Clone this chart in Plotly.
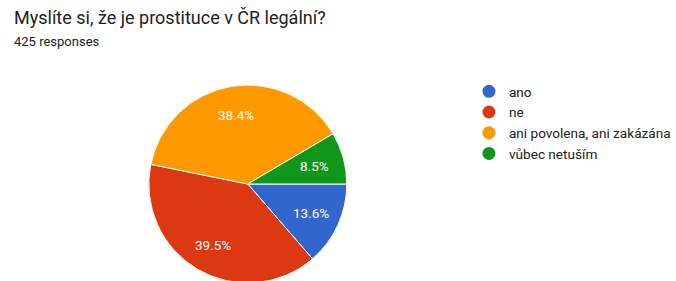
import math
import plotly.graph_objects as go

labels = ["ano", "ne", "ani povolena, ani zakázána", "vůbec netuším"]
counts = [58, 168, 163, 36]
colors = ["#3366cc", "#dc3912", "#ff9900", "#109618"]
title_text = "Myslíte si, že je prostituce v ČR legální?"
subtitle_text = "425 responses"

W, H = 676, 283
CX, R = 251.5, 99.0
fig = go.Figure()
fig.add_trace(go.Pie(
    labels=labels, values=counts, sort=False, direction="clockwise", rotation=90,
    marker=dict(colors=colors, line=dict(color="white", width=1)),
    textinfo="none",
    domain=dict(x=[(CX - 150) / W, (CX + 150) / W], y=[0.0, 2 * R / H]),
    showlegend=False, hoverinfo="label+value+percent",
))
for lab, col in zip(labels, colors):
    fig.add_trace(go.Scatter(
        x=[None], y=[None], mode="markers", name=lab,
        marker=dict(symbol="circle", size=13, color=col),
    ))

# slice labels placed along each slice's middle angle
total = sum(counts)
CY = H - R
annots = []
cum = 0
for v in counts:
    mid = -(cum + v / 2) / total * 2 * math.pi
    cum += v
    px = CX + 0.71 * R * math.cos(mid)
    py = CY - 0.71 * R * math.sin(mid)
    annots.append(dict(text=f"{v / total * 100:.1f}%", x=px / W, y=1 - py / H,
                       xref="paper", yref="paper", xanchor="center", yanchor="middle",
                       showarrow=False,
                       font=dict(family="Roboto", size=13.5, color="white")))

annots += [
    dict(text=title_text, x=12 / W, y=1 - 5 / H, xref="paper", yref="paper",
         xanchor="left", yanchor="top", showarrow=False,
         font=dict(family="Roboto", size=18, color="#202124")),
    dict(text=subtitle_text, x=12 / W, y=1 - 32 / H, xref="paper", yref="paper",
         xanchor="left", yanchor="top", showarrow=False,
         font=dict(family="Roboto", size=13, color="#202124")),
]

fig.update_layout(
    width=W, height=H, margin=dict(l=0, r=0, t=0, b=0),
    paper_bgcolor="white", plot_bgcolor="white",
    font=dict(family="Roboto", color="#202124"),
    xaxis=dict(visible=False), yaxis=dict(visible=False),
    legend=dict(x=476 / W, y=1 - 76 / H, xanchor="left", yanchor="top",
                font=dict(family="Roboto", size=13.6, color="#202124"),
                bgcolor="rgba(0,0,0,0)"),
    annotations=annots,
)
fig.write_html("out.html", config={"displayModeBar": False},
               post_script="document.body.style.margin='0';document.body.style.overflow='hidden';")
